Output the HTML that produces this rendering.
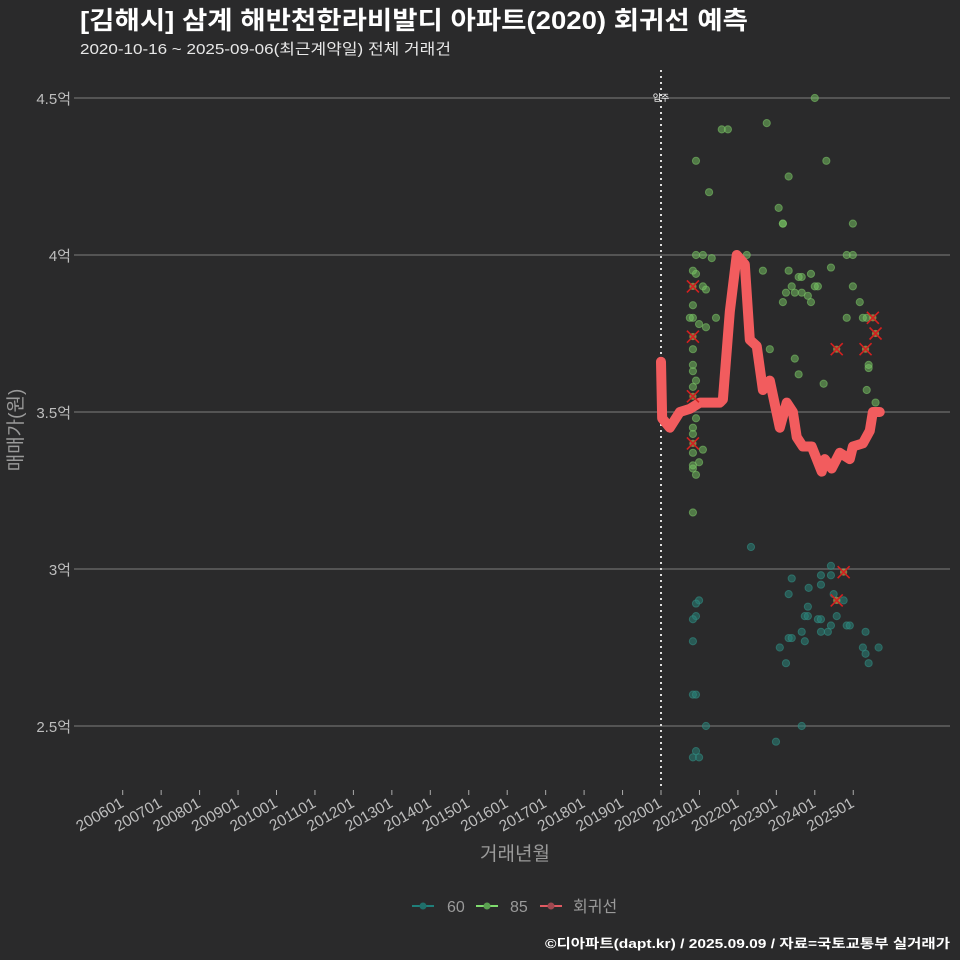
<!DOCTYPE html>
<html><head><meta charset="utf-8">
<style>
html,body{margin:0;padding:0;background:#2a2a2b;}
svg{display:block;font-family:"Liberation Sans","Noto Sans CJK KR",sans-serif;}
</style></head>
<body>
<svg id="chart" width="960" height="960" viewBox="0 0 960 960">
<rect width="960" height="960" fill="#2a2a2b"/>
<text x="80" y="29" fill="#ffffff" font-size="25" font-weight="bold" textLength="668" lengthAdjust="spacingAndGlyphs">[김해시] 삼계 해반천한라비발디 아파트(2020) 회귀선 예측</text>
<text x="80" y="54" fill="#e8e8e8" font-size="15" textLength="371" lengthAdjust="spacingAndGlyphs">2020-10-16 ~ 2025-09-06(최근계약일) 전체 거래건</text>
<g id="grid"></g>
<g id="yticks"></g>
<g id="xticks"></g>
<line x1="661" y1="70" x2="661" y2="790" stroke="#dddddd" stroke-width="2" stroke-dasharray="2,4"/>
<text x="661" y="101" fill="#ffffff" font-size="9" text-anchor="middle">입주</text>
<g id="pts60"></g>
<g id="pts85"></g>
<g id="reg"></g>
<g id="marks"></g>
<text x="22" y="430" fill="#9a9a9a" font-size="19" text-anchor="middle" transform="rotate(-90 22 430)">매매가(원)</text>
<text x="515" y="860" fill="#9a9a9a" font-size="19" text-anchor="middle">거래년월</text>
<g>
<g><line x1="412" y1="906" x2="434" y2="906" stroke="#1f7f7a" stroke-width="2"/><circle cx="423" cy="906" r="3.5" fill="#1f6f6a"/><text x="447" y="912" fill="#9a9a9a" font-size="16">60</text></g>
<g><line x1="476" y1="906" x2="498" y2="906" stroke="#7fdc6e" stroke-width="2"/><circle cx="487" cy="906" r="3.5" fill="#5aa050"/><text x="510" y="912" fill="#9a9a9a" font-size="16">85</text></g>
<g><line x1="540" y1="906" x2="562" y2="906" stroke="#e05a62" stroke-width="2"/><circle cx="551" cy="906" r="3.5" fill="#a04850"/><text x="573" y="912" fill="#9a9a9a" font-size="16">회귀선</text></g>
</g>
<text x="950" y="948" fill="#ffffff" font-size="13" font-weight="bold" text-anchor="end" textLength="405" lengthAdjust="spacingAndGlyphs">©디아파트(dapt.kr) / 2025.09.09 / 자료=국토교통부 실거래가</text>
</svg>
<script>
const yTickValues = [2.5, 3, 3.5, 4, 4.5];
const yTickLabels = ["2.5억", "3억", "3.5억", "4억", "4.5억"];
const xTickYears = [2006,2007,2008,2009,2010,2011,2012,2013,2014,2015,2016,2017,2018,2019,2020,2021,2022,2023,2024,2025];
const xTickLabels = ["200601","200701","200801","200901","201001","201101","201201","201301","201401","201501","201601","201701","201801","201901","202001","202101","202201","202301","202401","202501"];
const dates85 = [2020.91,2021.25,2021.58,2021.74,2022.75,2024.00,2024.30,2023.32,2023.06,2023.17,2023.17,2024.99,2020.91,2021.09,2021.32,2022.23,2024.83,2024.99,2020.83,2020.91,2022.65,2023.32,2024.42,2023.58,2023.66,2023.90,2021.09,2021.17,2023.25,2023.40,2023.48,2023.66,2023.82,2024.00,2024.08,2024.99,2023.17,2023.90,2025.17,2020.83,2020.75,2020.83,2021.43,2024.83,2025.25,2025.35,2021.17,2020.99,2020.83,2022.83,2023.48,2023.58,2024.23,2025.40,2025.40,2025.35,2025.58,2020.83,2020.83,2020.91,2020.83,2020.91,2020.83,2020.83,2021.09,2020.83,2020.99,2020.83,2020.83,2020.91,2020.83];
const prices85 = [4.30,4.20,4.40,4.40,4.42,4.50,4.30,4.25,4.15,4.10,4.10,4.10,4.00,4.00,3.99,4.00,4.00,4.00,3.95,3.94,3.95,3.95,3.96,3.93,3.93,3.94,3.90,3.89,3.88,3.90,3.88,3.88,3.87,3.90,3.90,3.90,3.85,3.85,3.85,3.84,3.80,3.80,3.80,3.80,3.80,3.80,3.77,3.78,3.70,3.70,3.67,3.62,3.59,3.65,3.64,3.57,3.53,3.65,3.63,3.60,3.58,3.48,3.45,3.43,3.38,3.37,3.34,3.33,3.32,3.30,3.18];
const dates60 = [2022.34,2024.42,2024.16,2024.42,2023.40,2023.84,2024.16,2023.32,2024.49,2024.75,2023.82,2023.74,2023.82,2024.08,2024.16,2024.57,2024.42,2024.83,2024.91,2023.66,2024.16,2024.34,2025.32,2023.32,2023.40,2023.74,2023.09,2025.25,2025.66,2025.32,2023.25,2025.40,2020.99,2020.91,2020.91,2020.83,2020.83,2020.83,2020.91,2021.17,2023.66,2022.99,2020.91,2020.83,2020.99];
const prices60 = [3.07,3.01,2.98,2.98,2.97,2.94,2.95,2.92,2.92,2.90,2.88,2.85,2.85,2.84,2.84,2.85,2.82,2.82,2.82,2.80,2.80,2.80,2.80,2.78,2.78,2.77,2.75,2.75,2.75,2.73,2.70,2.70,2.90,2.89,2.85,2.84,2.77,2.60,2.60,2.50,2.50,2.45,2.42,2.40,2.40];
const regDates = [2020.00,2020.03,2020.23,2020.49,2020.75,2021.01,2021.53,2021.61,2021.79,2021.97,2022.18,2022.31,2022.49,2022.65,2022.83,2023.09,2023.27,2023.43,2023.53,2023.69,2023.92,2024.18,2024.26,2024.44,2024.65,2024.91,2024.99,2025.25,2025.43,2025.51,2025.69];
const regPrices = [3.66,3.48,3.45,3.50,3.51,3.53,3.53,3.54,3.82,4.00,3.97,3.73,3.71,3.57,3.60,3.45,3.53,3.50,3.42,3.39,3.39,3.31,3.35,3.32,3.37,3.35,3.39,3.40,3.44,3.50,3.50];
const markDates = [2020.83,2020.83,2020.83,2020.83,2024.57,2025.32,2025.51,2025.58,2024.75,2024.57];
const markPrices = [3.90,3.74,3.55,3.40,3.70,3.70,3.80,3.75,2.99,2.90];

const NS = "http://www.w3.org/2000/svg";
const xScale = d => 122.7 + (d - 2006) * 38.45;
const yScale = v => 98 + (4.5 - v) * 314;
function mk(tag, attrs, parent){const e=document.createElementNS(NS,tag);for(const k in attrs)e.setAttribute(k,attrs[k]);parent.appendChild(e);return e;}

const grid=document.getElementById('grid'), yt=document.getElementById('yticks'), xt=document.getElementById('xticks');
yTickValues.forEach((v,i)=>{
  const y=yScale(v);
  const l=mk('line',{x1:74,x2:950,y1:y,y2:y,stroke:'#6e6e6e','stroke-width':1.2},grid);
  
  
  const t=mk('text',{x:71,y:y+6,fill:'#bdbdbd','font-size':15,'text-anchor':'end'},yt);
  t.textContent=yTickLabels[i];
  
  
});
xTickYears.forEach((d,i)=>{
  const x=xScale(d);
  const l=mk('line',{x1:x,x2:x,y1:790,y2:795,stroke:'#aaaaaa','stroke-width':1},xt);
  
  
  const t=mk('text',{x:x+2,y:806,fill:'#bdbdbd','font-size':15.5,'text-anchor':'end',transform:`rotate(-30 ${x+2} 806)`},xt);
  t.textContent=xTickLabels[i];
  
  
});
const g60=document.getElementById('pts60');
dates60.forEach((d,i)=>{
  const c=mk('circle',{cx:xScale(d),cy:yScale(prices60[i]),r:3.6,fill:'rgba(40,130,120,0.55)',stroke:'rgba(50,140,130,0.6)','stroke-width':1},g60);
  
  
});
const g85=document.getElementById('pts85');
dates85.forEach((d,i)=>{
  const c=mk('circle',{cx:xScale(d),cy:yScale(prices85[i]),r:3.6,fill:'rgba(120,200,100,0.5)',stroke:'rgba(120,190,100,0.6)','stroke-width':1},g85);
  
  
});
const reg=document.getElementById('reg');
const p=mk('polyline',{points:regDates.map((d,i)=>xScale(d)+','+yScale(regPrices[i])).join(' '),fill:'none',stroke:'#f25c5e','stroke-width':10,'stroke-linejoin':'round','stroke-linecap':'round'},reg);


const gm=document.getElementById('marks');
markDates.forEach((d,i)=>{
  const x=xScale(d), y=yScale(markPrices[i]);
  const g=mk('g',{},gm);
  
  
  mk('circle',{cx:x,cy:y,r:3.6,fill:'rgba(200,180,80,0.6)'},g);
  mk('path',{d:`M${x-6},${y-6}L${x+6},${y+6}M${x+6},${y-6}L${x-6},${y+6}`,stroke:'#d42020','stroke-width':1.6},g);
});
</script>
</body></html>
